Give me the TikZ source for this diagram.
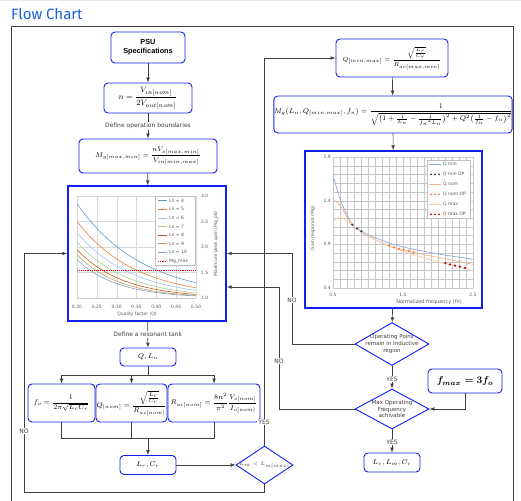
\documentclass[tikz,border=0pt]{standalone}
\usepackage{amssymb, amsmath}
\usepackage{fontspec}
\setmainfont{DejaVu Sans}
\newfontfamily\titlefont{Fira Sans}
\newfontfamily\headfont{Liberation Sans}
\usetikzlibrary{arrows}
\usetikzlibrary{shapes}
\definecolor{boxblue}{RGB}{16,32,240}
\definecolor{linegray}{RGB}{64,64,64}
\definecolor{titleblue}{RGB}{24,98,222}
\definecolor{axisgray}{RGB}{89,89,89}
\definecolor{gridgray}{RGB}{200,200,200}
\definecolor{lnA}{HTML}{5B9BD5}
\definecolor{lnB}{HTML}{ED7D31}
\definecolor{lnC}{HTML}{9DC3E6}
\definecolor{lnD}{HTML}{A9D18E}
\definecolor{lnE}{HTML}{C55A11}
\definecolor{lnF}{HTML}{BF9F5F}
\definecolor{lnG}{HTML}{7F9FCF}
\definecolor{qmin}{HTML}{8FAADC}
\definecolor{qminop}{HTML}{203864}
\definecolor{qnom}{HTML}{F4B183}
\definecolor{qnomop}{HTML}{ED7D31}
\definecolor{qmax}{HTML}{F8CBAD}
\definecolor{qmaxop}{HTML}{C00000}

\begin{document}
\begin{tikzpicture}[x = 1pt, y = -1pt]
\tikzstyle{block}=[shape = rectangle, rounded corners = 4pt, draw = boxblue,
                   line width = 0.9pt, fill = white, inner sep = 0pt,
                   align = center, font = \fontsize{7.5}{9}\selectfont]
\tikzstyle{chart}=[shape = rectangle, draw = boxblue, line width = 1.6pt, inner sep = 0pt]
\tikzstyle{decision}=[shape = diamond, draw = boxblue, line width = 0.9pt,
                      fill = white, inner sep = 0pt]
\tikzstyle{dtext}=[align = center, inner sep = 0pt, text = linegray,
                   font = \fontsize{5.5}{6.6}\selectfont]
\tikzstyle{flow}=[draw = linegray, line width = 0.7pt, -latex]
\tikzstyle{wire}=[draw = linegray, line width = 0.7pt]
\tikzstyle{note}=[fill = white, inner sep = 1pt, text = linegray,
                  font = \fontsize{6}{7}\selectfont]
\tikzstyle{tick}=[inner sep = 0pt, text = axisgray, font = \fontsize{4.5}{5}\selectfont]
\useasboundingbox (0,0) rectangle (521,500);
\draw[gray!15, line width = 1pt] (0,0.5) -- (521,0.5);
\node[anchor = west, inner sep = 0pt, text = titleblue,
      font = \titlefont\fontsize{15}{18}\selectfont] (title) at (11,14) {Flow Chart};
\draw[linegray, line width = 0.8pt] (11,505) -- (11,26) -- (513,26) -- (513,505);

\node[block, minimum width = 74pt, minimum height = 31pt,
      font = \headfont\bfseries\fontsize{7.3}{8.6}\selectfont] (psu) at (148,47.5) {PSU\\Specifications};
\node[block, minimum width = 88pt, minimum height = 30pt, font = \fontsize{8}{9}\selectfont] (nbox) at (148,98)
     {$\displaystyle n = \frac{V_{in[nom]}}{2V_{out[nom]}}$};
\node[block, minimum width = 138pt, minimum height = 34pt] (mgbox) at (148,156)
     {$\displaystyle M_{g[max,min]} = \frac{nV_{o[max,min]}}{V_{in[min,max]}}$};
\node[chart, minimum width = 158pt, minimum height = 135pt] (lgraph) at (147,253.5) {};
\node[block, minimum width = 56pt, minimum height = 18pt] (qln) at (148,357) {$Q, L_n$};
\node[block, minimum width = 67pt, minimum height = 38pt] (fobox) at (61.5,403)
     {$\displaystyle f_o = \frac{1}{2\pi\sqrt{L_rC_r}}$};
\node[block, minimum width = 71pt, minimum height = 38pt] (qnom) at (131.5,403)
     {$\displaystyle Q_{[nom]} = \frac{\sqrt{\frac{L_r}{C_r}}}{R_{ac[nom]}}$};
\node[block, minimum width = 92pt, minimum height = 38pt] (racbox) at (214,403)
     {$\displaystyle R_{ac[nom]} = \frac{8n^2}{\pi^2}\frac{V_{o[nom]}}{I_{o[nom]}}$};
\node[block, minimum width = 56pt, minimum height = 19pt] (lrcr) at (148,465) {$L_r, C_r$};
\node[decision, minimum width = 57pt, minimum height = 38pt] (lmdia) at (264.5,465) {};
\node[dtext] (lmtxt) at (lmdia) {$L_m < L_{m[max]}$};

\node[block, minimum width = 112pt, minimum height = 38pt,
      font = \fontsize{6.5}{7.5}\selectfont] (qmm) at (392,58)
     {$\displaystyle Q_{[min,max]} = \frac{\sqrt{\frac{L_r}{C_r}}}{R_{ac[max,min]}}$};
\node[block, minimum width = 236pt, minimum height = 37pt,
      font = \fontsize{7}{8}\selectfont] (mgfn) at (393,114.5)
     {$\displaystyle M_g(L_n, Q_{[min,max]}, f_n) = \frac{1}{\sqrt{\bigl(1+\frac{1}{L_n}-\frac{1}{{f_n}^{2}L_n}\bigr)^2+Q^2\bigl(\frac{1}{f_n}-f_n\bigr)^2}}$};
\node[chart, minimum width = 177pt, minimum height = 157pt] (rgraph) at (393.5,229.5) {};
\node[decision, minimum width = 74pt, minimum height = 43pt] (opdia) at (392,344) {};
\node[dtext] (optxt) at (opdia) {Operating Poins\\remain in Inductive\\region};
\node[decision, minimum width = 74pt, minimum height = 40pt] (maxdia) at (392,409) {};
\node[dtext] (maxtxt) at (maxdia) {Max Operating\\Frequency\\achivable};
\node[block, minimum width = 74pt, minimum height = 24pt,
      font = \fontsize{10}{12}\selectfont] (fmax) at (465,381) {$\boldsymbol{f_{max} = 3f_o}$};
\node[block, minimum width = 56pt, minimum height = 19pt] (final) at (392,462.5) {$L_r, L_m, C_r$};

\begin{scope}[shift = {(77,298)}, x = 396.67pt, y = 51pt]
\foreach \i in {0,...,6}
  \draw[gridgray!70, line width = 0.3pt] ({0.05*\i},0) -- ({0.05*\i},2);
\foreach \j in {1,...,4}
  \draw[gridgray!70, line width = 0.3pt] (0,{0.5*\j}) -- (0.3,{0.5*\j});
\draw[gridgray, line width = 0.4pt] (0,0) -- (0.3,0);
\foreach \A/\b/\col in {1.85/6.06/lnA, 1.5/6.72/lnB, 1.28/7.15/lnC, 1.1/7.99/lnD,
                        0.95/8.7/lnE, 0.85/9.44/lnF, 0.75/9.77/lnG}
  \draw[\col, line width = 0.6pt, domain = 0:0.3, samples = 40, smooth]
    plot (\x, {\A*exp(-\b*\x)});
\draw[red, densely dotted, line width = 0.9pt] (0,0.55) -- (0.3,0.55);
\end{scope}
\draw[gray!50, line width = 0.3pt, fill = white] (155,196) rectangle (195,265);
\foreach \i/\lab/\col in {0/4/lnA, 1/5/lnB, 2/6/lnC, 3/7/lnD, 4/8/lnE, 5/9/lnF, 6/10/lnG} {
  \draw[\col, line width = 0.7pt] (158,{200.7+8.6*\i}) -- (167,{200.7+8.6*\i});
  \node[tick, anchor = west] (lleg\i) at (169,{200.7+8.6*\i}) {Ln = \lab};
}
\draw[red, densely dotted, line width = 0.8pt] (158,261) -- (167,261);
\node[tick, anchor = west] (lleg7) at (169,261) {Mg\_max};
\foreach \i/\t in {0/0.20, 1/0.25, 2/0.30, 3/0.35, 4/0.40, 5/0.45, 6/0.50}
  \node[tick] (lx\i) at ({77+19.83*\i},307) {\t};
\foreach \i/\t in {0/1.0, 1/1.5, 2/2.0, 3/2.5, 4/3.0}
  \node[tick, anchor = west] (ly\i) at (201,{298-25.5*\i}) {\t};
\node[tick, rotate = 90] (lylab) at (216,244) {Maximum peak gain (Mg\_pk)};
\node[tick] (lxlab) at (137,314) {Quality factor (Q)};

\begin{scope}[shift = {(298,322.93)}, x = 70pt, y = 87.33pt]
\foreach \i in {0,...,20}
  \draw[gridgray, line width = 0.3pt] ({0.5+0.1*\i},0.4) -- ({0.5+0.1*\i},1.9);
\foreach \j in {0,...,15}
  \draw[gridgray, line width = 0.3pt] (0.5,{0.4+0.1*\j}) -- (2.5,{0.4+0.1*\j});
\draw[qmin, line width = 0.7pt] plot[smooth] coordinates {(0.5,1.69) (0.6,1.42) (0.7,1.24)
  (0.776,1.125) (0.843,1.08) (0.905,1.05) (1.0,1.01) (1.25,0.93) (1.5,0.87) (2.0,0.79) (2.5,0.73)};
\draw[qnom, line width = 0.7pt] plot[smooth] coordinates {(0.5,1.41) (0.6,1.35) (0.7,1.21)
  (0.776,1.125) (0.9,1.04) (1.0,0.995) (1.3,0.885) (1.65,0.808) (2.0,0.75) (2.5,0.67)};
\draw[qmax, line width = 0.7pt] plot[smooth] coordinates {(0.5,1.16) (0.55,1.2) (0.6,1.21)
  (0.65,1.195) (0.7,1.165) (0.8,1.1) (0.9,1.04) (1.0,0.99) (1.5,0.82) (2.1,0.68) (2.5,0.595)};
\foreach \p in {(0.776,1.125), (0.843,1.08), (0.905,1.05)}
  \fill[qminop] \p circle (1.2pt);
\foreach \p in {(1.3,0.885), (1.37,0.866), (1.44,0.847), (1.51,0.84), (1.58,0.824), (1.65,0.808)}
  \fill[qnomop] \p circle (1.2pt);
\foreach \p in {(2.105,0.686), (2.171,0.671), (2.243,0.656), (2.314,0.645), (2.386,0.63)}
  \fill[qmaxop] \p circle (1.2pt);
\end{scope}
\draw[gray!50, line width = 0.3pt, fill = white] (427,160) rectangle (470,218);
\foreach \i/\lab/\col in {0/Q min/qmin, 2/Q nom/qnom, 4/Q max/qmax} {
  \draw[\col, line width = 0.7pt] (429,{164.3+10*\i}) -- (441,{164.3+10*\i});
  \node[tick, anchor = west] (rleg\i) at (443,{164.3+10*\i}) {\lab};
}
\foreach \i/\lab/\col in {1/Q min OP/qminop, 3/Q nom OP/qnomop, 5/Q max OP/qmaxop} {
  \foreach \d in {0,1,2}
    \fill[\col] ({431+4*\d},{164.3+10*\i}) circle (1pt);
  \node[tick, anchor = west] (rleg\i) at (443,{164.3+10*\i}) {\lab};
}
\foreach \i/\t in {0/0.5, 1/1.5, 2/2.5}
  \node[tick] (rx\i) at ({333+70*\i},295) {\t};
\foreach \i/\t in {0/0.4, 1/0.9, 2/1.4, 3/1.9}
  \node[tick, anchor = east] (ry\i) at (331,{288-43.67*\i}) {\t};
\node[tick, rotate = 90] (rylab) at (313,228) {Gain responce (Mg)};
\node[tick, font = \fontsize{5}{6}\selectfont] (rxlab) at (429,302) {Normalized frequency (fn)};

\coordinate (split) at (148,375);
\coordinate (merge) at (148,438);
\coordinate (bend1) at (292,253.5);
\coordinate (bend2) at (279,287);
\coordinate (bend3) at (24,492);
\draw[flow] (psu) -- (nbox);
\draw[flow] (nbox) -- node[note] (defbound) {Define operation boundaries} (mgbox);
\draw[flow] (mgbox) -- (lgraph);
\draw[flow] (lgraph) -- node[note] (deftank) {Define a resonant tank} (qln);
\draw[wire] (qln) -- (split);
\draw[flow] (split) -| (fobox);
\draw[flow] (split) -| (qnom);
\draw[flow] (split) -| (racbox);
\draw[wire] (fobox) |- (merge);
\draw[wire] (qnom) |- (merge);
\draw[wire] (racbox) |- (merge);
\draw[flow] (merge) -- (lrcr);
\draw[flow] (lrcr) -- (lmdia);
\draw[flow] (lmdia.north) |- (qmm.west);
\draw[flow] (lmdia.south) |- (bend3) |- (lgraph.west);
\draw[flow] (qmm) -- (mgfn);
\draw[flow] (mgfn) -- (rgraph);
\draw[flow] (rgraph) -- (opdia);
\draw[flow] (opdia.west) -| (bend1) -- (lgraph.east |- bend1);
\draw[flow] (opdia) -- (maxdia);
\draw[flow] (fmax.south) |- (maxdia.east);
\draw[flow] (maxdia.west) -| (bend2) -- (lgraph.east |- bend2);
\draw[flow] (maxdia) -- (final);
\node[note] (yes1) at (264,422) {YES};
\node[note] (no1) at (24,431) {NO};
\node[note] (no2) at (292,300) {NO};
\node[note] (no3) at (279,361) {NO};
\node[note] (yes2) at (392,379) {YES};
\node[note] (yes3) at (392,442) {YES};
\end{tikzpicture}
\end{document}
